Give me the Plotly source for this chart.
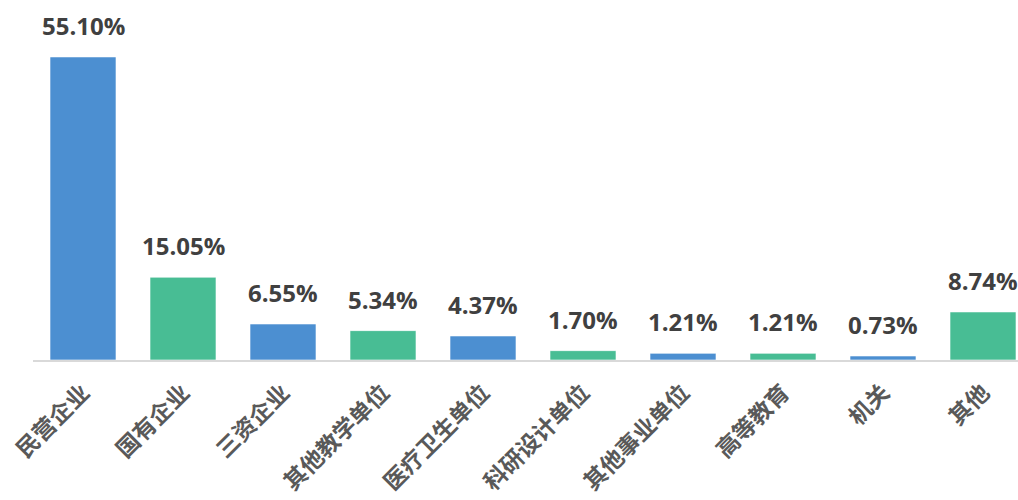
import plotly.graph_objects as go

categories = ["民营企业", "国有企业", "三资企业", "其他教学单位", "医疗卫生单位",
              "科研设计单位", "其他事业单位", "高等教育", "机关", "其他"]
shares = [55.10, 15.05, 6.55, 5.34, 4.37, 1.70, 1.21, 1.21, 0.73, 8.74]

blue = "#4C8FD1"
green = "#48BD94"
colors = [blue if i % 2 == 0 else green for i in range(len(categories))]

fig = go.Figure(
    go.Bar(
        x=categories,
        y=shares,
        marker=dict(color=colors, line=dict(color="rgba(255,255,255,0.6)", width=1)),
        width=0.66,
        hoverinfo="skip",
    )
)

for cat, val in zip(categories, shares):
    fig.add_annotation(
        x=cat, y=val, text=f"{val:.2f}%", showarrow=False,
        yanchor="bottom", yshift=14, borderpad=0,
        font=dict(family="Open Sans, Noto Sans CJK SC", size=24, color="#404040", weight="bold"),
    )

fig.update_layout(
    width=1018, height=500,
    margin=dict(l=33, r=0, t=0, b=140),
    plot_bgcolor="white", paper_bgcolor="white",
    showlegend=False,
    xaxis=dict(
        range=[-0.5, 9.35],
        tickangle=-45,
        showline=True, linecolor="#D9D9D9", linewidth=2,
        showgrid=False, ticks="",
        ticklabelstandoff=8,
        tickfont=dict(family="Noto Sans CJK SC", size=23, color="#595959", weight="bold"),
    ),
    yaxis=dict(range=[0, 65.45], visible=False, showgrid=False, zeroline=False),
)

fig.write_html("out.html")
